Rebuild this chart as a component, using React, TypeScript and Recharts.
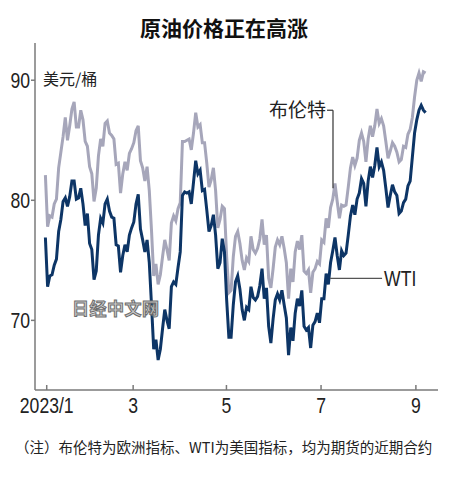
import { LineChart, Line, XAxis, YAxis, ReferenceLine, ReferenceDot } from "recharts";

// trading-day index 0 = 2023/1/3, last = 2023/9/11
const wtiPrices = [
  76.9, 72.8, 73.7, 73.8, 74.6, 75.1, 77.4, 78.4, 79.9, 80.2, 79.5, 80.3, 81.6, 81.6, 80.1, 80.2, 81.0, 79.7, 77.9, 78.9,
  76.4, 75.9, 73.4, 74.1, 77.1, 78.5, 78.1, 79.7, 80.1, 79.1, 78.6, 78.5, 76.3, 76.2, 74.0, 75.4, 76.3, 75.7, 77.1,
  77.7, 78.2, 79.7, 80.5, 77.6, 76.7, 75.7, 76.7, 74.8, 71.3, 67.6, 68.4, 66.7, 67.6, 69.3, 70.9, 70.0, 69.3, 72.8, 73.2, 73.0, 74.4, 75.7,
  80.4, 80.7, 80.6, 80.7, 79.7, 81.5, 83.3, 82.2, 82.5, 80.8, 80.9, 79.2, 77.4, 77.9, 78.8, 77.1, 74.3, 74.8, 76.8,
  75.7, 71.7, 68.6, 68.6, 71.3, 73.2, 73.7, 72.6, 70.9, 70.0, 71.1, 70.9, 72.8, 71.9, 71.7, 72.0, 72.9, 74.3, 71.8, 72.7, 69.5, 68.1,
  70.1, 71.7, 72.2, 71.7, 72.5, 71.3, 70.2, 67.1, 69.4, 68.3, 70.6, 71.8, 71.2, 72.5, 69.5, 69.2, 69.4, 67.7, 69.6, 69.9, 70.6,
  69.8, 71.8, 71.8, 73.9, 73.0, 74.8, 75.8, 76.9, 75.4, 74.2, 75.8, 75.4, 75.6, 77.1, 78.7, 79.6, 78.8, 80.1, 80.6, 81.8,
  81.4, 79.5, 81.6, 82.8, 81.9, 82.9, 84.4, 82.8, 83.2, 82.5, 81.0, 79.4, 80.4, 81.3, 80.7, 80.4, 78.9, 79.1, 79.8, 80.1, 81.2, 81.6, 83.6,
  85.6, 86.7, 87.5, 87.9, 87.5, 87.3,
];

const brentPrices = [
  82.1, 77.8, 78.7, 78.6, 79.7, 80.1, 82.7, 84.0, 85.3, 86.9, 85.0, 86.2, 87.6, 88.2, 86.1, 86.1, 87.5, 86.7, 84.9, 84.5,
  82.8, 82.2, 79.9, 81.0, 83.7, 85.1, 84.5, 86.4, 86.6, 85.6, 85.4, 85.1, 83.0, 83.1, 80.6, 82.2, 83.2, 82.5, 83.9,
  84.3, 84.8, 85.8, 86.2, 83.3, 82.7, 81.6, 82.8, 80.8, 77.5, 73.7, 74.7, 73.0, 73.8, 75.3, 76.7, 75.9, 75.0, 78.1, 78.7, 78.3, 79.3, 79.8,
  84.9, 84.9, 85.0, 85.1, 84.2, 85.6, 87.3, 86.1, 86.3, 84.8, 84.8, 83.1, 81.1, 81.7, 82.7, 80.8, 77.7, 78.4, 79.5,
  79.3, 75.3, 72.3, 72.5, 75.3, 77.0, 77.4, 76.4, 75.0, 74.2, 75.2, 74.9, 77.0, 75.9, 75.6, 76.0, 76.8, 78.4, 76.3, 77.1, 73.5, 72.7,
  74.3, 76.1, 76.7, 76.3, 77.0, 76.0, 74.8, 71.8, 74.3, 73.2, 75.7, 76.6, 75.9, 77.1, 74.1, 73.9, 74.2, 72.3, 74.0, 74.3, 74.9,
  74.7, 76.7, 76.5, 78.5, 77.7, 79.4, 80.1, 81.4, 79.9, 78.5, 79.6, 79.5, 79.6, 81.1, 82.7, 83.6, 82.9, 83.5, 85.0, 85.6,
  84.9, 83.2, 85.1, 86.2, 85.3, 86.2, 87.6, 86.4, 86.8, 86.2, 84.9, 83.5, 84.1, 84.8, 84.5, 84.0, 83.2, 83.4, 84.5, 84.4, 85.5, 85.9, 86.9,
  88.6, 90.0, 90.6, 89.9, 90.7, 90.6,
];

const monthTicks = [0.6, 39.7, 81.9, 124.7, 167.6];
const monthLabels = ["2023/1", "3", "5", "7", "9"];
const priceTicks = [70, 80, 90];

const data = wtiPrices.map((wti, i) => ({ day: i, wti, brent: brentPrices[i] }));

const NUM_FONT = "'Liberation Sans', Arial, sans-serif";
const CJK_FONT = "'Noto Sans CJK SC', 'Noto Sans', sans-serif";
const NARROW = 0.8; // the original figures use a condensed face
const AXIS = "#7a7a7a";
const BRENT = "#a6a6ba";
const WTI = "#0d3566";

function NarrowText({ x, y, anchor, size, children }: any) {
  return (
    <text
      transform={`translate(${x},${y}) scale(${NARROW},1)`}
      textAnchor={anchor}
      dy="0.355em"
      fill="#222"
      fontSize={size}
      fontFamily={NUM_FONT}
    >
      {children}
    </text>
  );
}

function MonthTick({ x, y, payload }: any) {
  const label = monthLabels[monthTicks.indexOf(payload.value)];
  return (
    <g>
      <line x1={x} x2={x} y1={y - 5} y2={y} stroke={AXIS} strokeWidth={1.5} />
      <NarrowText x={x} y={y + 15} anchor="middle" size={22}>
        {label}
      </NarrowText>
    </g>
  );
}

function PriceTick({ x, y, payload }: any) {
  return (
    <NarrowText x={x} y={y} anchor="end" size={22}>
      {payload.value}
    </NarrowText>
  );
}

export default function App() {
  return (
    <div style={{ position: "absolute", left: 0, top: 0, width: 450, height: 481, background: "#fff" }}>
      <div
        style={{
          position: "absolute", left: 0, top: 15, width: 448, textAlign: "center",
          fontFamily: CJK_FONT, fontWeight: 700, fontSize: 21, lineHeight: "25px", color: "#111",
        }}
      >
        原油价格正在高涨
      </div>
      <LineChart width={450} height={481} data={data} margin={{ top: 43, right: 12, bottom: 61, left: 0 }}>
        <XAxis
          type="number"
          dataKey="day"
          domain={[-4.7, 177.6]}
          ticks={monthTicks}
          allowDataOverflow
          height={30}
          tickSize={0}
          tickMargin={0}
          tickLine={false}
          axisLine={{ stroke: AXIS, strokeWidth: 1.5 }}
          tick={<MonthTick />}
        />
        <YAxis
          type="number"
          domain={[64.2, 93.1]}
          ticks={priceTicks}
          allowDataOverflow
          width={35}
          tickSize={4}
          tickMargin={1}
          tickLine={{ stroke: AXIS, strokeWidth: 1.5 }}
          axisLine={{ stroke: AXIS, strokeWidth: 1.5 }}
          tick={<PriceTick />}
        />
        <Line dataKey="brent" stroke={BRENT} strokeWidth={3} dot={false} isAnimationActive={false} />
        <Line dataKey="wti" stroke={WTI} strokeWidth={3} dot={false} isAnimationActive={false} />
        <ReferenceLine segment={[{ x: 127.4, y: 87.5 }, { x: 130.1, y: 87.5 }]} stroke="#333" strokeWidth={1.2} />
        <ReferenceLine segment={[{ x: 130.1, y: 87.5 }, { x: 130.1, y: 81.0 }]} stroke="#333" strokeWidth={1.2} />
        <ReferenceDot
          x={127.4}
          y={87.5}
          r={0}
          label={{ value: "布伦特", position: "left", offset: 1, fill: "#222", fontSize: 19, fontFamily: CJK_FONT }}
        />
        <ReferenceLine segment={[{ x: 128.8, y: 73.5 }, { x: 152.3, y: 73.5 }]} stroke="#555" strokeWidth={1.2} />
        <ReferenceDot
          x={152.3}
          y={73.5}
          r={0}
          label={({ viewBox }: any) => (
            <NarrowText x={viewBox.x + 2} y={viewBox.y} anchor="start" size={22}>
              WTI
            </NarrowText>
          )}
        />
      </LineChart>
      <div
        style={{
          position: "absolute", left: 43, top: 68, fontFamily: CJK_FONT, fontSize: 16,
          lineHeight: "20px", color: "#222",
        }}
      >
        美元/桶
      </div>
      <div
        style={{
          position: "absolute", left: 72, top: 297, fontFamily: CJK_FONT, fontSize: 17, fontWeight: 700,
          lineHeight: "22px", color: "#d0d0d0", WebkitTextStroke: "1px #6e6e6e", letterSpacing: 0.5,
        }}
      >
        日经中文网
      </div>
      <div
        style={{
          position: "absolute", left: 15, top: 438, fontFamily: CJK_FONT, fontSize: 14.5,
          lineHeight: "17px", color: "#222", whiteSpace: "nowrap",
        }}
      >
        （注）布伦特为欧洲指标、WTI为美国指标，均为期货的近期合约
      </div>
    </div>
  );
}
